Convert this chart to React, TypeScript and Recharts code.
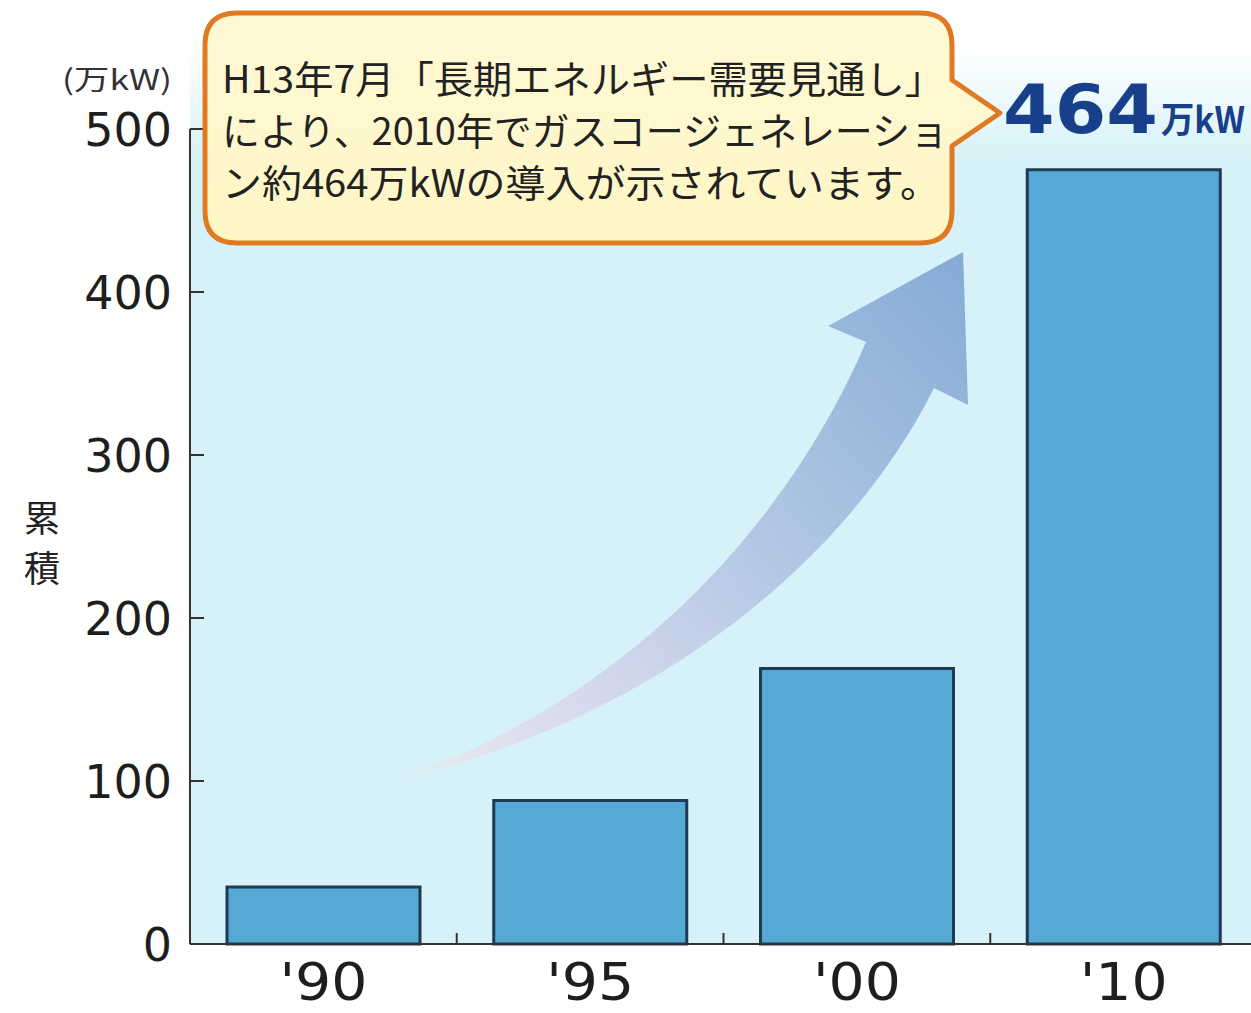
import React from "react";
import { BarChart, Bar, XAxis, YAxis } from "recharts";

const categories = ["'90", "'95", "'00", "'10"];
const values = [35, 88, 169, 475];
const yTicks = [0, 100, 200, 300, 400, 500];
const unitLabel = "(万kW)";
const axisTitle = ["累", "積"];
const calloutLines = [
  "H13年7月「長期エネルギー需要見通し」",
  "により、2010年でガスコージェネレーショ",
  "ン約464万kWの導入が示されています。",
];
const highlightValue = "464";
const highlightUnit = "万kW";

const data = categories.map((c, i) => ({ name: c, value: values[i] }));

const CHART_W = 1270;
const CHART_H = 1013;
const Y_W = 190;
const X_H = 69;
const TOP = 129;
const RIGHT = 13;
const BAND_HALF = (CHART_W - RIGHT - Y_W) / categories.length / 2;

const NUM_FONT = "'DejaVu Sans', sans-serif";
const JP_FONT = "'Noto Sans CJK JP', sans-serif";

const YTick = (props: any) => {
  const { x, y, payload } = props;
  return (
    <g>
      <line x1={x} x2={x + 14} y1={y} y2={y} stroke="#333" strokeWidth={2} />
      <text x={x - 18} y={y + 17} textAnchor="end" fontSize={46} fontFamily={NUM_FONT} fill="#1e1e1e">
        {payload.value}
      </text>
    </g>
  );
};

const XTick = (props: any) => {
  const { x, y, payload } = props;
  return (
    <g>
      <line x1={x + BAND_HALF} x2={x + BAND_HALF} y1={y - 11} y2={y} stroke="#333" strokeWidth={2} />
      <text x={x} y={y + 56} textAnchor="middle" fontSize={52} fontFamily={NUM_FONT} fill="#1e1e1e" textLength={88} lengthAdjust="spacingAndGlyphs">
        {payload.value}
      </text>
    </g>
  );
};

export default function App() {
  return (
    <div
      style={{
        position: "fixed",
        left: 0,
        top: 0,
        width: 1251,
        height: 1013,
        overflow: "hidden",
        background: "#fff",
      }}
    >
      <svg width={1251} height={1013} style={{ position: "absolute", left: 0, top: 0 }}>
        <defs>
          <linearGradient id="bg" x1="0" y1="0" x2="0" y2="944" gradientUnits="userSpaceOnUse">
            <stop offset="0" stopColor="#ffffff" />
            <stop offset="0.05" stopColor="#ffffff" />
            <stop offset="0.17" stopColor="#d6f2f8" />
            <stop offset="1" stopColor="#d6f2f8" />
          </linearGradient>
          <linearGradient id="arrow" x1="395" y1="780" x2="960" y2="260" gradientUnits="userSpaceOnUse">
            <stop offset="0" stopColor="#f2e2ec" stopOpacity="0.2" />
            <stop offset="0.12" stopColor="#e4dcec" stopOpacity="0.8" />
            <stop offset="0.5" stopColor="#b9cbe6" />
            <stop offset="1" stopColor="#86acd6" />
          </linearGradient>
        </defs>
        <rect x={190} y={0} width={1070} height={944} fill="url(#bg)" />
        <path
          d="M963,252 L828,326 L866,342 C790,520 630,700 395,780 C640,724 842,572 934,388 L968,405 Z"
          fill="url(#arrow)"
        />
      </svg>

      <div style={{ position: "absolute", left: 0, top: 0 }}>
        <BarChart width={CHART_W} height={CHART_H} data={data} margin={{ top: TOP, right: RIGHT, left: 0, bottom: 0 }}>
          <XAxis
            dataKey="name"
            height={X_H}
            tickSize={0}
            tickMargin={0}
            axisLine={{ stroke: "#333", strokeWidth: 2 }}
            tickLine={false}
            tick={<XTick />}
            interval={0}
          />
          <YAxis
            width={Y_W}
            domain={[0, 500]}
            ticks={yTicks}
            tickSize={0}
            tickMargin={0}
            axisLine={{ stroke: "#333", strokeWidth: 2 }}
            tickLine={false}
            tick={<YTick />}
            interval={0}
          />
          <Bar dataKey="value" fill="#56a9d4" stroke="#1d3b52" strokeWidth={3} barSize={193} isAnimationActive={false} />
        </BarChart>
      </div>

      <svg width={1251} height={1013} style={{ position: "absolute", left: 0, top: 0 }}>
        <defs>
          <linearGradient id="callout" x1="0" y1="0" x2="0" y2="1">
            <stop offset="0" stopColor="#fff9d6" />
            <stop offset="1" stopColor="#fff6c4" />
          </linearGradient>
        </defs>
        <text x={172} y={90} textAnchor="end" fontSize={28} fontFamily={JP_FONT} fill="#333" textLength={110} lengthAdjust="spacingAndGlyphs">
          {unitLabel}
        </text>
        {axisTitle.map((ch, i) => (
          <text key={ch} x={42} y={532 + i * 50} textAnchor="middle" fontSize={36} fontFamily={JP_FONT} fill="#222">
            {ch}
          </text>
        ))}
        <path
          d="M237,13 L920,13 Q952,13 952,45 L952,80 L1000,113 L952,146 L952,211 Q952,243 920,243 L237,243 Q205,243 205,211 L205,45 Q205,13 237,13 Z"
          fill="url(#callout)"
          stroke="#e07a22"
          strokeWidth={5}
          strokeLinejoin="round"
        />
        {calloutLines.map((line, i) => (
          <text
            key={i}
            x={222}
            y={93 + i * 52}
            fontSize={38}
            fontFamily={JP_FONT}
            fill="#222"
            textLength={[722, 726, 718][i]}
            lengthAdjust="spacingAndGlyphs"
          >
            {line}
          </text>
        ))}
        <text x={1003} y={133} fontSize={68} fontWeight="bold" fontFamily={NUM_FONT} fill="#173f8a" textLength={155} lengthAdjust="spacingAndGlyphs">
          {highlightValue}
        </text>
        <text x={1161} y={133} fontSize={36} fontWeight="bold" fontFamily={JP_FONT} fill="#173f8a" textLength={84} lengthAdjust="spacingAndGlyphs">
          {highlightUnit}
        </text>
      </svg>
    </div>
  );
}
